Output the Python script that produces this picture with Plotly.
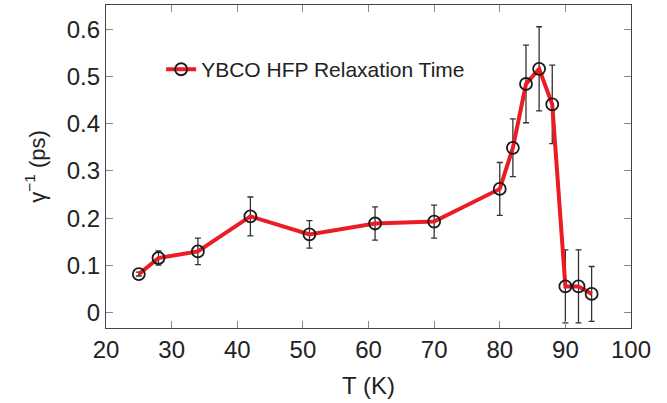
import plotly.graph_objects as go

# temperatura (K) y tiempo de relajacion inverso
temperatura = [25, 28, 34, 42, 51, 61, 70, 80, 82, 84, 86, 88, 90, 92, 94]
gamma_inv = [0.082, 0.116, 0.130, 0.204, 0.166, 0.189, 0.193, 0.262, 0.349,
             0.484, 0.516, 0.441, 0.056, 0.056, 0.040]
error = [0.004, 0.015, 0.028, 0.041, 0.029, 0.035, 0.035, 0.056, 0.061,
         0.082, 0.089, 0.083, 0.077, 0.077, 0.058]

fuente = "Liberation Sans, Arial, Helvetica, sans-serif"

fig = go.Figure()
fig.add_trace(go.Scatter(
    x=temperatura, y=gamma_inv,
    mode="lines+markers",
    name="YBCO HFP Relaxation Time",
    line=dict(color="#ec1c24", width=4),
    marker=dict(symbol="circle-open", size=12, color="#1a1a1a", line=dict(width=1.8)),
    error_y=dict(type="data", array=error, color="#333333", thickness=1.3, width=3),
))

fig.update_layout(
    width=667, height=403,
    margin=dict(l=106, r=36, t=5, b=75),
    paper_bgcolor="white", plot_bgcolor="white",
    font=dict(family=fuente, color="#222222"),
    showlegend=True,
    legend=dict(x=0.105, y=0.80, xanchor="left", yanchor="middle",
                bgcolor="rgba(0,0,0,0)", font=dict(size=21)),
)
fig.update_xaxes(
    range=[20, 100], tickvals=[20, 30, 40, 50, 60, 70, 80, 90, 100],
    showgrid=False, zeroline=False, automargin=False,
    showline=True, linecolor="#444444", linewidth=1.2, mirror="ticks",
    ticks="inside", ticklen=7, tickcolor="#888888",
    tickfont=dict(size=24),
    title=dict(text="T (K)", font=dict(size=24)),
)
fig.update_yaxes(
    range=[-0.032, 0.651], tickvals=[0, 0.1, 0.2, 0.3, 0.4, 0.5, 0.6],
    ticktext=["0", "0.1", "0.2", "0.3", "0.4", "0.5", "0.6"],
    showgrid=False, zeroline=False, automargin=False,
    showline=True, linecolor="#444444", linewidth=1.2, mirror="ticks",
    ticks="inside", ticklen=7, tickcolor="#888888",
    tickfont=dict(size=24),
    title=dict(text="γ<sup>−1</sup> (ps)", font=dict(size=22)),
)

# sin margen del body para que la figura quede en (0,0)
fig.write_html("out.html", config={"displayModeBar": False},
               post_script="document.body.style.margin='0';")
